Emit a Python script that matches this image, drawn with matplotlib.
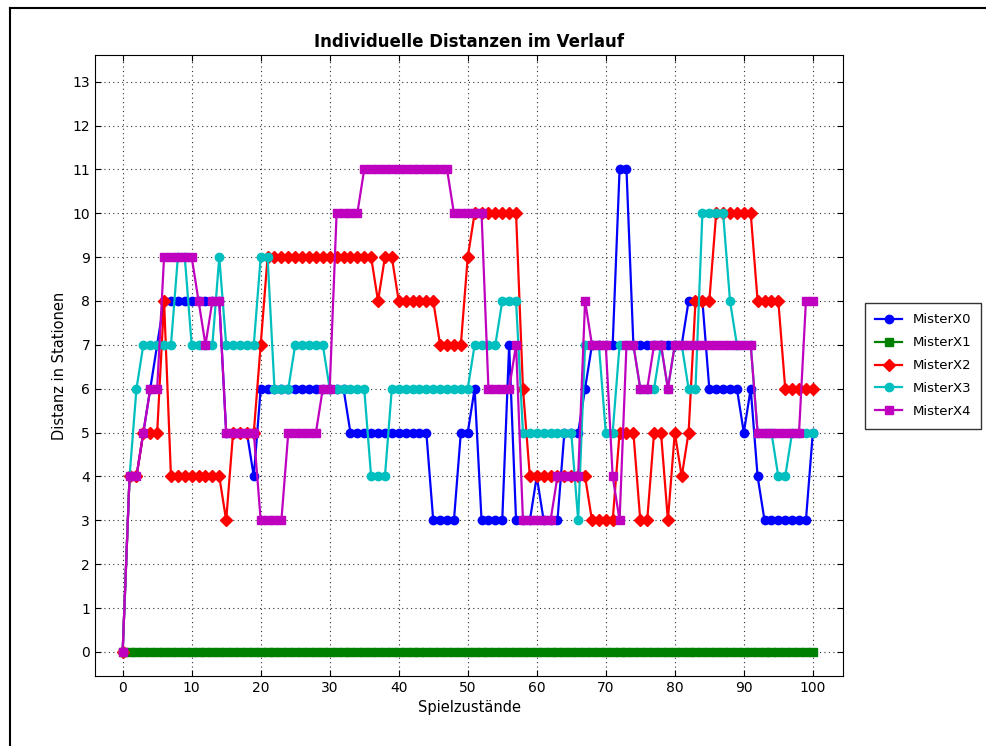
import matplotlib
matplotlib.use("Agg")
import matplotlib.pyplot as plt
from matplotlib.lines import Line2D

# game states 0..100
steps = list(range(101))

misterx0 = [0, 4, 4, 5, 6, 7, 8, 8, 8, 8,
            8, 8, 8, 8, 8, 5, 5, 5, 5, 4,
            6, 6, 6, 6, 6, 6, 6, 6, 6, 6,
            6, 6, 6, 5, 5, 5, 5, 5, 5, 5,
            5, 5, 5, 5, 5, 3, 3, 3, 3, 5,
            5, 6, 3, 3, 3, 3, 7, 3, 3, 3,
            4, 3, 3, 3, 5, 5, 5, 6, 7, 7,
            7, 7, 11, 11, 7, 7, 7, 7, 7, 7,
            7, 7, 8, 8, 8, 6, 6, 6, 6, 6,
            5, 6, 4, 3, 3, 3, 3, 3, 3, 3,
            5]

misterx1 = [0] * 101

misterx2 = [0, 4, 4, 5, 5, 5, 8, 4, 4, 4,
            4, 4, 4, 4, 4, 3, 5, 5, 5, 5,
            7, 9, 9, 9, 9, 9, 9, 9, 9, 9,
            9, 9, 9, 9, 9, 9, 9, 8, 9, 9,
            8, 8, 8, 8, 8, 8, 7, 7, 7, 7,
            9, 10, 10, 10, 10, 10, 10, 10, 6, 4,
            4, 4, 4, 4, 4, 4, 4, 4, 3, 3,
            3, 3, 5, 5, 5, 3, 3, 5, 5, 3,
            5, 4, 5, 8, 8, 8, 10, 10, 10, 10,
            10, 10, 8, 8, 8, 8, 6, 6, 6, 6,
            6]

misterx3 = [0, 4, 6, 7, 7, 7, 7, 7, 9, 9,
            7, 7, 7, 7, 9, 7, 7, 7, 7, 7,
            9, 9, 6, 6, 6, 7, 7, 7, 7, 7,
            6, 6, 6, 6, 6, 6, 4, 4, 4, 6,
            6, 6, 6, 6, 6, 6, 6, 6, 6, 6,
            6, 7, 7, 7, 7, 8, 8, 8, 5, 5,
            5, 5, 5, 5, 5, 5, 3, 7, 7, 7,
            5, 5, 7, 7, 7, 6, 6, 6, 7, 6,
            7, 7, 6, 6, 10, 10, 10, 10, 8, 7,
            7, 7, 5, 5, 5, 4, 4, 5, 5, 5,
            5]

misterx4 = [0, 4, 4, 5, 6, 6, 9, 9, 9, 9,
            9, 8, 7, 8, 8, 5, 5, 5, 5, 5,
            3, 3, 3, 3, 5, 5, 5, 5, 5, 6,
            6, 10, 10, 10, 10, 11, 11, 11, 11, 11,
            11, 11, 11, 11, 11, 11, 11, 11, 10, 10,
            10, 10, 10, 6, 6, 6, 6, 7, 3, 3,
            3, 3, 3, 4, 4, 4, 4, 8, 7, 7,
            7, 4, 3, 7, 7, 6, 6, 7, 7, 6,
            7, 7, 7, 7, 7, 7, 7, 7, 7, 7,
            7, 7, 5, 5, 5, 5, 5, 5, 5, 8,
            8]

fig = plt.figure(figsize=(9.87, 7.46), dpi=100)
ax = fig.add_axes([0.0963, 0.0938, 0.758, 0.832])

ax.plot(steps, misterx0, color='#0000ff', marker='o', markersize=6, linewidth=1.6, label='MisterX0')
ax.plot(steps, misterx1, color='#008000', marker='s', markersize=6, linewidth=1.6, label='MisterX1')
ax.plot(steps, misterx2, color='#ff0000', marker='D', markersize=6, linewidth=1.6, label='MisterX2')
ax.plot(steps, misterx3, color='#00bfbf', marker='o', markersize=6, linewidth=1.6, label='MisterX3')
ax.plot(steps, misterx4, color='#bf00bf', marker='s', markersize=6, linewidth=1.6, label='MisterX4')

ax.set_xlim(-4, 104.4)
ax.set_ylim(-0.55, 13.6)
ax.set_xticks(range(0, 101, 10))
ax.set_yticks(range(0, 14))
ax.tick_params(direction='in', top=True, right=True, labelsize=10, length=4)
ax.grid(True, color='#303030', linestyle=(0, (1, 3)), linewidth=0.8)

ax.set_title('Individuelle Distanzen im Verlauf', fontsize=12, fontweight='bold')
ax.set_xlabel('Spielzustände', fontsize=10.5)
ax.set_ylabel('Distanz in Stationen', fontsize=10.5)

leg = ax.legend(loc='center left', bbox_to_anchor=(1.02, 0.5), fontsize=9.5,
                fancybox=False, borderpad=0.8, labelspacing=0.75)
leg.get_frame().set_edgecolor('black')

# window frame around the picture
fig.add_artist(Line2D([10 / 987, 10 / 987], [0, 1 - 8 / 746], color='black', linewidth=1.5))
fig.add_artist(Line2D([10 / 987, 1], [1 - 8 / 746, 1 - 8 / 746], color='black', linewidth=1.5))

fig.savefig('out.png', dpi=100)
